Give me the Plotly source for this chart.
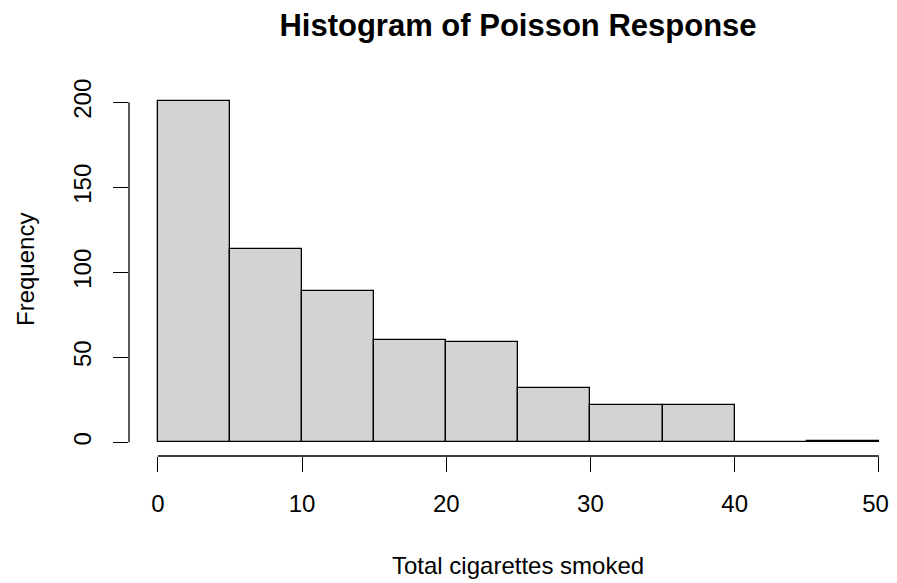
import plotly.graph_objects as go

# Histogram data (bin left edges, bin width, counts)
bin_starts = [0, 5, 10, 15, 20, 25, 30, 35, 40, 45]
bin_width = 5
counts = [201, 114, 89, 60, 59, 32, 22, 22, 0, 1]
x_ticks = [0, 10, 20, 30, 40, 50]
y_ticks = [0, 50, 100, 150, 200]

title_text = "Histogram of Poisson Response"
x_label = "Total cigarettes smoked"
y_label = "Frequency"

FONT = "Liberation Sans, Arial, sans-serif"

# page body has an 8px default margin; figure is sized/offset to compensate
W, H = 889, 575

# last x label nudged left (trailing no-break space) so it stays inside the visible page
x_ticktext = [str(v) for v in x_ticks]
x_ticktext[-1] = x_ticktext[-1] + "\u00a0"

fig = go.Figure()
fig.add_trace(go.Bar(
    x=bin_starts,
    y=counts,
    width=[bin_width] * len(bin_starts),
    offset=0,
    marker=dict(color="#D3D3D3", line=dict(color="#000000", width=1.3)),
    showlegend=False,
))

fig.update_layout(
    width=W, height=H,
    margin=dict(l=121, r=0, t=79, b=127),
    plot_bgcolor="white", paper_bgcolor="white",
    bargap=0,
    font=dict(family=FONT, size=24, color="#000000"),
    title=dict(text="<b>" + title_text + "</b>", x=510 / W, xanchor="center",
               y=1 - 17 / H, yanchor="middle", xref="container", yref="container",
               font=dict(family=FONT, size=31, color="#000000")),
)

fig.update_xaxes(
    range=[-2, 51.26], showgrid=False, zeroline=False, showline=False,
    tickmode="array", tickvals=x_ticks, ticktext=x_ticktext,
    ticks="outside", ticklen=15, tickwidth=1.3, tickcolor="#000000",
    ticklabelstandoff=11, ticklabeloverflow="allow",
    tickfont=dict(size=24, family=FONT), fixedrange=True,
)
fig.update_yaxes(
    range=[-8.04, 209.04], showgrid=False, zeroline=False, showline=False,
    tickmode="array", tickvals=y_ticks, ticktext=[str(v) for v in y_ticks],
    ticks="outside", ticklen=15, tickwidth=1.3, tickcolor="#000000",
    ticklabelstandoff=12,
    tickangle=-90, tickfont=dict(size=24, family=FONT), fixedrange=True,
)

# Detached R-style axis lines spanning only the tick range
fig.add_shape(type="line", xref="paper", yref="y", x0=0, x1=0,
              y0=min(y_ticks), y1=max(y_ticks), line=dict(color="#000000", width=1.3))
fig.add_shape(type="line", xref="x", yref="paper", x0=min(x_ticks), x1=max(x_ticks),
              y0=0, y1=0, line=dict(color="#000000", width=1.3))

fig.add_annotation(text=x_label, xref="paper", yref="paper", x=(518 - 129) / 768, y=0,
                   xanchor="center", yanchor="middle", yshift=-109, showarrow=False,
                   font=dict(family=FONT, size=24, color="#000000"))
fig.add_annotation(text=y_label, xref="paper", yref="paper", x=0, y=(456 - 270) / 369,
                   xanchor="center", yanchor="middle", xshift=-104, textangle=-90,
                   showarrow=False, font=dict(family=FONT, size=24, color="#000000"))

fig.write_html("out.html")
